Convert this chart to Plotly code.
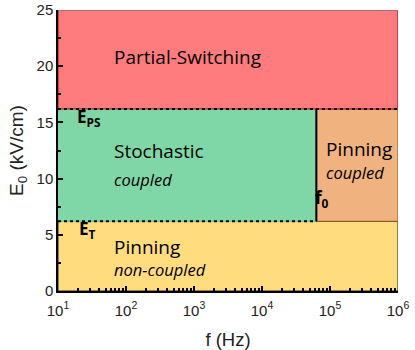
import plotly.graph_objects as go

# Data (boundaries of the state diagram)
f_min, f_max = 10, 1e6          # Hz
E_max = 25                      # kV/cm
E_T = 6.2                       # threshold field
E_PS = 16.2                     # partial-switching field
f0 = 6.3e4                      # crossover frequency

x_tickvals = [10, 100, 1e3, 1e4, 1e5, 1e6]
x_ticktext = ["10<sup>1</sup>", "10<sup>2</sup>", "10<sup>3</sup>",
              "10<sup>4</sup>", "10<sup>5</sup>", "10<sup>6</sup>"]

regions = [
    # name, xs, ys, fill, edge
    ("Pinning non-coupled", [f_min, f_max, f_max, f_min, f_min], [0, 0, E_T, E_T, 0], "#FFDC7E", "#222222"),
    ("Stochastic", [f_min, f0, f0, f_min, f_min], [E_T, E_T, E_PS, E_PS, E_T], "#7FD7A7", "#7FD7A7"),
    ("Pinning coupled", [f0, f_max, f_max, f0, f0], [E_T, E_T, E_PS, E_PS, E_T], "#F0B27F", "#8B5A20"),
    ("Partial-Switching", [f_min, f_max, f_max, f_min, f_min], [E_PS, E_PS, E_max, E_max, E_PS], "#FF7C7E", "#B00000"),
]

fig = go.Figure()
for name, xs, ys, fc, ec in regions:
    fig.add_trace(go.Scatter(x=xs, y=ys, mode="lines", fill="toself", fillcolor=fc,
                             line=dict(color=ec, width=1), hoverinfo="skip", showlegend=False))

# top gray frame line
fig.add_trace(go.Scatter(x=[f_min, f_max], y=[E_max, E_max], mode="lines",
                         line=dict(color="#888888", width=1.5), showlegend=False, hoverinfo="skip"))
# dotted boundaries
fig.add_trace(go.Scatter(x=[f_min, f_max], y=[E_PS, E_PS], mode="lines",
                         line=dict(color="black", width=2, dash="dot"), showlegend=False, hoverinfo="skip"))
fig.add_trace(go.Scatter(x=[f_min, f0], y=[E_T, E_T], mode="lines",
                         line=dict(color="black", width=2, dash="dot"), showlegend=False, hoverinfo="skip"))
# solid f0 line
fig.add_trace(go.Scatter(x=[f0, f0], y=[E_T, E_PS], mode="lines",
                         line=dict(color="black", width=2), showlegend=False, hoverinfo="skip"))

lab_font = dict(family="Open Sans, Noto Sans, sans-serif", size=19, color="black")
ital_font = dict(family="Open Sans, Noto Sans, sans-serif", size=16.5, color="black")
bold_font = dict(family="Open Sans, Noto Sans, sans-serif", size=17, color="black")

annots = [
    (1.79, 20.8, "Partial-Switching", lab_font),
    (1.79, 12.5, "Stochastic", lab_font),
    (1.79, 9.9, "<i>coupled</i>", ital_font),
    (1.79, 3.9, "Pinning", lab_font),
    (1.79, 1.87, "<i>non-coupled</i>", ital_font),
    (4.91, 12.6, "Pinning", lab_font),
    (4.91, 10.5, "<i>coupled</i>", ital_font),
    (1.25, 15.45, "<b>E<sub>PS</sub></b>", bold_font),
    (1.28, 5.5, "<b>E<sub>T</sub></b>", bold_font),
    (4.75, 8.2, "<b>f<sub>0</sub></b>", bold_font),
]
for x, y, t, fnt in annots:
    fig.add_annotation(x=x, y=y, xref="x", yref="y", text=t, showarrow=False,
                       xanchor="left", yanchor="middle", font=fnt)

axfont = dict(family="Liberation Sans, Arial, sans-serif", size=15, color="#222222")
fig.update_layout(
    width=415, height=350,
    margin=dict(l=58, r=17, t=10, b=59),
    paper_bgcolor="white", plot_bgcolor="white",
    xaxis=dict(type="log", range=[1, 6], tickvals=x_tickvals, ticktext=x_ticktext,
               ticks="inside", ticklen=5, tickwidth=1.5, tickcolor="black",
               showline=True, linecolor="black", linewidth=1.5, showgrid=False, zeroline=False,
               tickfont=axfont, automargin=False, ticklabelstandoff=5,
               minor=dict(ticks="inside", ticklen=3, tickcolor="black", dtick="D1", showgrid=False),
               title=dict(text="f (Hz)", font=dict(family="Liberation Sans, Arial, sans-serif", size=18.5, color="#222222"), standoff=16)),
    yaxis=dict(range=[0, 25], dtick=5, ticks="inside", ticklen=5, tickwidth=1.5, tickcolor="black",
               showline=True, linecolor="black", linewidth=1.5, showgrid=False, zeroline=False,
               tickfont=axfont, automargin=False,
               minor=dict(ticks="inside", ticklen=3, tickcolor="black", dtick=2.5, showgrid=False),
               title=dict(text="E<sub>0</sub> (kV/cm)", font=dict(family="Liberation Sans, Arial, sans-serif", size=19, color="#222222"), standoff=8)),
)

fig.write_html("out.html", config={"displayModeBar": False},
               post_script="document.body.style.margin='0';document.body.style.overflow='hidden';")
